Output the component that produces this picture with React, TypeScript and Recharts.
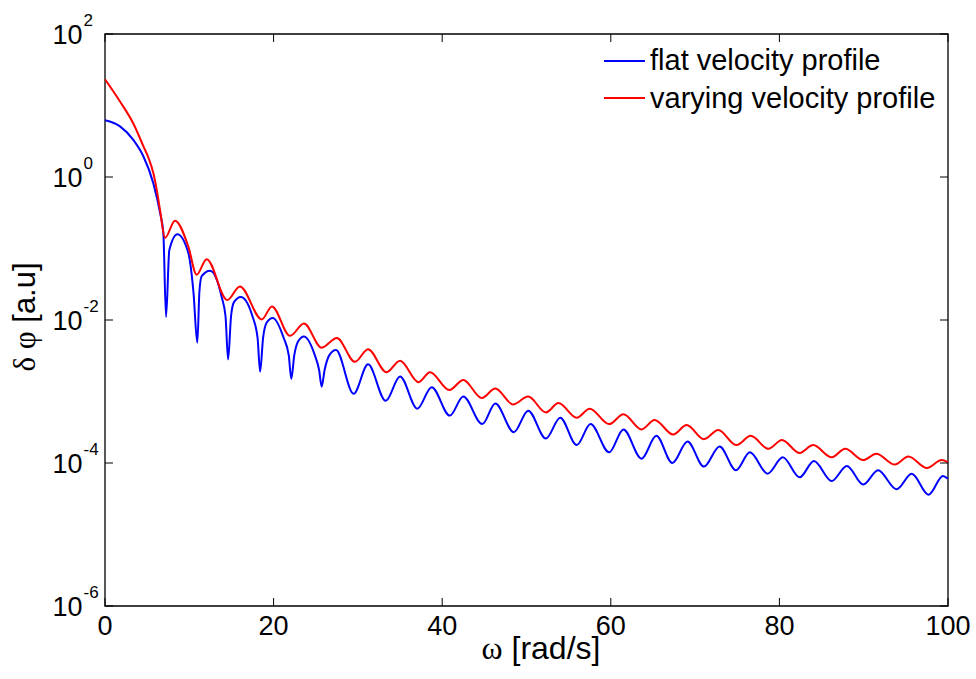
import { LineChart, Line, XAxis, YAxis, Legend, ReferenceArea } from 'recharts';

// flat velocity profile (blue)
const flatW = [
  0, 1.78, 3.36, 4.55, 5.73, 6.52, 6.92, 7.24, 7.63, 8.58, 9.88, 10.5, 10.95, 11.2, 11.47, 12.46,
  13.84, 14.3, 14.6, 14.95, 15.3, 16.1, 17.5, 18.1, 18.4, 18.75, 19.2, 19.9, 21.2, 21.8, 22.1, 22.45,
  22.9, 23.6, 24.9, 25.4, 25.7, 26.05, 26.6, 27.4, 29.5, 31.2, 33.3, 35.0, 37.05, 38.75, 40.9, 42.5,
  44.75, 46.3, 48.5, 50.2, 52.3, 54.0, 55.95, 57.6, 59.8, 61.5, 63.65, 65.4, 67.3, 69.1, 71.05, 72.9,
  74.85, 76.5, 78.6, 80.4, 82.4, 84.1, 86.2, 88.0, 89.95, 91.7, 93.9, 95.7, 97.7, 99.4, 100,
];
const flatV = [
  6.2, 5.1, 3.3, 1.95, 0.82, 0.32, 0.165, 0.011, 0.095, 0.158, 0.087, 0.024, 0.0048, 0.025, 0.041, 0.049,
  0.021, 0.0112, 0.0028, 0.0112, 0.0178, 0.021, 0.0112, 0.0056, 0.0019, 0.0056, 0.0093, 0.0107, 0.0056, 0.0032, 0.0015, 0.0032,
  0.005, 0.0059, 0.0032, 0.002, 0.00117, 0.002, 0.0032, 0.0038, 9.3e-4, 2.4e-3, 7.4e-4, 1.62e-3, 5.75e-4, 1.15e-3, 4.6e-4, 8.5e-4,
  3.5e-4, 6.8e-4, 2.7e-4, 5.4e-4, 2.2e-4, 4.3e-4, 1.78e-4, 3.5e-4, 1.41e-4, 2.95e-4, 1.15e-4, 2.4e-4, 1.0e-4, 2.0e-4, 8.9e-5, 1.7e-4,
  7.9e-5, 1.41e-4, 7.1e-5, 1.2e-4, 6.3e-5, 1.07e-4, 5.6e-5, 9.1e-5, 5.0e-5, 7.9e-5, 4.3e-5, 7.1e-5, 3.6e-5, 6.6e-5, 6.0e-5,
];

// varying velocity profile (red)
const varyW = [
  0, 1.78, 3.36, 4.55, 5.2, 5.73, 6.15, 6.52, 7.12, 8.3, 9.88, 10.87, 12.06, 14.5, 16.0, 18.6, 19.8, 21.95,
  23.6, 25.7, 27.5, 29.65, 31.2, 33.4, 35.0, 37.2, 38.55, 40.85, 42.5, 44.7, 46.3, 48.4, 50.2, 52.3,
  53.8, 55.95, 57.5, 59.8, 61.5, 63.65, 65.2, 67.4, 69.0, 71.05, 72.75, 74.9, 76.6, 78.7, 80.3, 82.4,
  84.0, 86.2, 87.8, 89.95, 91.5, 93.7, 95.3, 97.5, 99.25, 100,
];
const varyV = [
  23.3, 11.4, 5.6, 2.7, 1.8, 1.14, 0.65, 0.35, 0.141, 0.245, 0.107, 0.043, 0.071, 0.019, 0.0295, 0.0102, 0.0155, 0.006,
  0.0089, 0.0041, 0.0056, 0.0026, 0.0039, 0.00186, 0.0027, 0.00135, 0.00186, 0.00105, 0.00145, 8.1e-4, 1.1e-3, 6.6e-4, 8.5e-4, 5.1e-4,
  6.9e-4, 4.3e-4, 5.75e-4, 3.5e-4, 4.8e-4, 2.95e-4, 4.0e-4, 2.5e-4, 3.4e-4, 2.15e-4, 2.9e-4, 1.78e-4, 2.4e-4, 1.58e-4, 2.1e-4, 1.38e-4,
  1.78e-4, 1.2e-4, 1.58e-4, 1.1e-4, 1.35e-4, 9.5e-5, 1.23e-4, 8.5e-5, 1.1e-4, 1.02e-4,
];

const xTicks = [0, 20, 40, 60, 80, 100];
const yTicks = [1e-6, 1e-4, 1e-2, 1, 1e2];
const yExps = ['-6', '-4', '-2', '0', '2'];

const flatData = flatW.map((w, i) => ({ w, v: flatV[i] }));
const varyData = varyW.map((w, i) => ({ w, v: varyV[i] }));

const FONT = "'Liberation Sans', Arial, Helvetica, sans-serif";
const GREEK = "'Liberation Serif', 'DejaVu Serif', serif";

// plot box
const TOP = 34;
const BOTTOM = 606;
const LEFT = 105;
const RIGHT = 948;
const TICK = 8;

const YTick = (props: any) => {
  const { y, payload } = props;
  const idx = yTicks.indexOf(payload.value);
  return (
    <g>
      <line x1={LEFT} x2={LEFT + TICK} y1={y} y2={y} stroke='#000' />
      <line x1={RIGHT} x2={RIGHT - TICK} y1={y} y2={y} stroke='#000' />
      <text x={82.5} y={y + 9.5} textAnchor='end' fontSize={27} fontFamily={FONT} fill='#000'>
        10
      </text>
      <text x={83.5} y={y - 8} textAnchor='start' fontSize={17} fontFamily={FONT} fill='#000'>
        {idx >= 0 ? yExps[idx] : ''}
      </text>
    </g>
  );
};

const XTick = (props: any) => {
  const { x, payload } = props;
  return (
    <g>
      <line x1={x} x2={x} y1={BOTTOM} y2={BOTTOM - TICK} stroke='#000' />
      <line x1={x} x2={x} y1={TOP} y2={TOP + TICK} stroke='#000' />
      <text x={x} y={BOTTOM + 29} textAnchor='middle' fontSize={27} fontFamily={FONT} fill='#000'>
        {payload.value}
      </text>
    </g>
  );
};

const XTitle = () => (
  <text x={541} y={659} textAnchor='middle' fontSize={32} fontFamily={FONT} fill='#000'>
    <tspan fontFamily={GREEK}>ω</tspan> [rad/s]
  </text>
);

const YTitle = () => (
  <text transform='translate(35, 317) rotate(-90)' textAnchor='middle' fontSize={31} fontFamily={FONT} fill='#000'>
    <tspan fontFamily={GREEK}>δ φ</tspan> [a.u]
  </text>
);

const LegendBox = (props: any) => {
  const items = props.payload || [];
  return (
    <div style={{ fontFamily: FONT, fontSize: 29, color: '#000' }}>
      {items.map((it: any) => (
        <div key={it.value} style={{ display: 'flex', alignItems: 'center', height: 37.5 }}>
          <div style={{ width: 41, height: 0, borderTop: `2px solid ${it.color}`, marginRight: 5 }} />
          <span style={{ lineHeight: '37px', whiteSpace: 'nowrap' }}>{it.value}</span>
        </div>
      ))}
    </div>
  );
};

export default function App() {
  return (
    <div style={{ position: 'absolute', left: 0, top: 0 }}>
      <LineChart
        width={976}
        height={679}
        margin={{
          top: TOP,
          right: 976 - RIGHT,
          left: 0,
          bottom: 0,
        }}>
        <XAxis
          dataKey='w'
          type='number'
          domain={[0, 100]}
          ticks={xTicks}
          allowDataOverflow
          height={679 - BOTTOM}
          axisLine={false}
          tickLine={false}
          tick={<XTick />}
          label={{ content: XTitle }}
        />
        <YAxis
          type='number'
          scale='log'
          domain={[1e-6, 100]}
          ticks={yTicks}
          allowDataOverflow
          width={LEFT}
          axisLine={false}
          tickLine={false}
          tick={<YTick />}
          label={{ content: YTitle }}
        />
        <ReferenceArea x1={0} x2={100} y1={1e-6} y2={100} fill='none' stroke='#000' strokeWidth={1.3} ifOverflow='visible' />
        <Legend
          layout='vertical'
          align='center'
          verticalAlign='middle'
          wrapperStyle={{ top: 42, left: 604, width: 370 }}
          content={<LegendBox />}
        />
        <Line
          data={flatData}
          dataKey='v'
          name='flat velocity profile'
          type='monotoneX'
          stroke='#0000ff'
          strokeWidth={2}
          dot={false}
          isAnimationActive={false}
        />
        <Line
          data={varyData}
          dataKey='v'
          name='varying velocity profile'
          type='monotoneX'
          stroke='#ff0000'
          strokeWidth={2}
          dot={false}
          isAnimationActive={false}
        />
      </LineChart>
    </div>
  );
}
